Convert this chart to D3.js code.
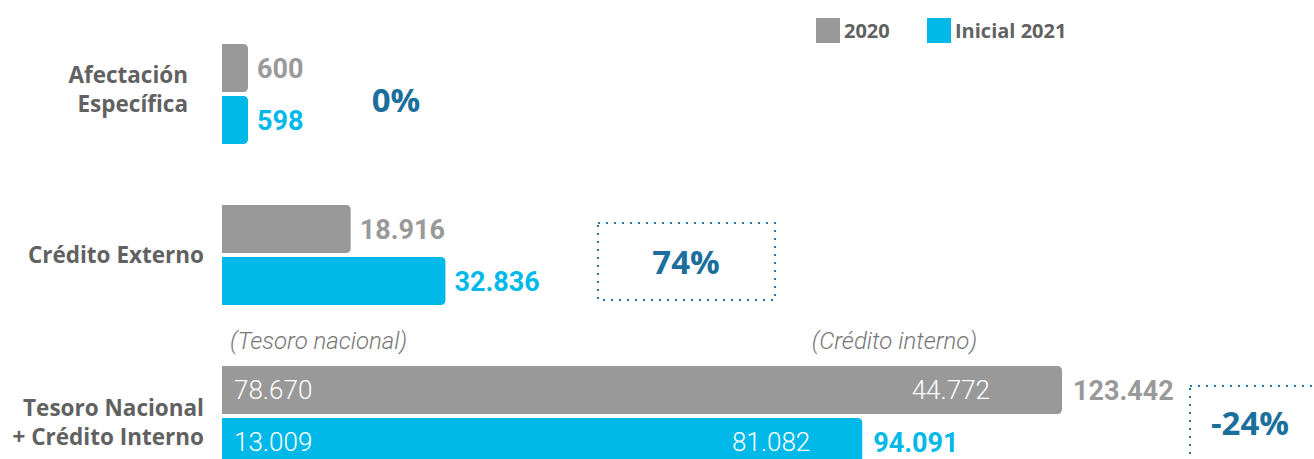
<!DOCTYPE html>
<html>
<head>
<meta charset="utf-8">
<script src="https://cdn.jsdelivr.net/npm/d3@7"></script>
<style>
  html, body { margin: 0; padding: 0; background: #fff; }
  svg { display: block; }
</style>
</head>
<body>
<svg id="chart" width="1314" height="459"></svg>
<script>
// ---- data ----
const categories = ["Afectación Específica", "Crédito Externo", "Tesoro Nacional + Crédito Interno"];
const categoryLines = [["Afectación", "Específica"], ["Crédito Externo"], ["Tesoro Nacional", "+ Crédito Interno"]];
const seriesNames = ["2020", "Inicial 2021"];
const values2020 = [600, 18916, 123442];
const values2021 = [598, 32836, 94091];
// composition of the last category
const tesoroNacional = [78670, 13009];   // 2020, 2021
const creditoInterno = [44772, 81082];   // 2020, 2021
const componentLabels = ["(Tesoro nacional)", "(Crédito interno)"];
const changes = ["0%", "74%", "-24%"];

// ---- styles / layout ----
const colors = ["#999999", "#00b9e9"];
const pctColor = "#1b6f9c";
const catColor = "#616161";
const x0 = 222;
const minBar = 26;
const labelOffsetY = [-5, 0, 6];
const labelRightX = [188, 204, 204];

const svg = d3.select("#chart");
const fmt = d3.formatLocale({decimal: ",", thousands: ".", grouping: [3], currency: ["$", ""]}).format(",d");

const x = d3.scaleLinear().domain([0, 123442]).range([0, 840]);
const y = d3.scaleBand().domain(categories).range([13.5, 496.5]);
const barH = 48, gap = 4;

function barW(v) { return Math.max(x(v), minBar); }
function roundedRight(xs, ys, w, h, r) {
  return `M${xs},${ys}H${xs + w - r}Q${xs + w},${ys} ${xs + w},${ys + r}V${ys + h - r}Q${xs + w},${ys + h} ${xs + w - r},${ys + h}H${xs}Z`;
}

const series = [values2020, values2021];

categories.forEach((cat, i) => {
  const cy = y(cat) + y.bandwidth() / 2;
  const tops = [cy - gap / 2 - barH, cy + gap / 2];
  series.forEach((vals, s) => {
    const w = barW(vals[i]);
    svg.append("path")
      .attr("d", roundedRight(x0, tops[s], w, barH, 5))
      .attr("fill", colors[s]);
    const isLast = i === categories.length - 1;
    svg.append("text")
      .attr("x", x0 + w + (isLast ? 11 : 9))
      .attr("y", tops[s] + barH / 2)
      .attr("dy", "0.36em")
      .attr("fill", colors[s])
      .attr("font-family", "Roboto, sans-serif")
      .attr("font-weight", 700)
      .attr("font-size", 27)
      .text(fmt(vals[i]));
  });

  // category label
  const lines = categoryLines[i];
  const t = svg.append("text")
    .attr("text-anchor", "end")
    .attr("fill", catColor)
    .attr("font-family", "'Open Sans', sans-serif")
    .attr("font-weight", 700)
    .attr("font-size", 22.5);
  lines.forEach((ln, k) => {
    t.append("tspan")
      .attr("x", labelRightX[i])
      .attr("y", cy + labelOffsetY[i] + (k - (lines.length - 1) / 2) * 29)
      .attr("dy", "0.36em")
      .text(ln);
  });
});

// composition labels for last category
const lastCat = categories[2];
const lcy = y(lastCat) + y.bandwidth() / 2;
const lTops = [lcy - gap / 2 - barH, lcy + gap / 2];
[0, 1].forEach(s => {
  const total = series[s][2];
  svg.append("text")
    .attr("x", x0 + 12)
    .attr("y", lTops[s] + barH / 2)
    .attr("dy", "0.36em")
    .attr("fill", "#fff")
    .attr("font-family", "Roboto, sans-serif")
    .attr("font-weight", 300)
    .attr("font-size", 26)
    .text(fmt(tesoroNacional[s]));
  svg.append("text")
    .attr("x", x0 + x(total) - (s === 0 ? 72 : 52))
    .attr("y", lTops[s] + barH / 2)
    .attr("dy", "0.36em")
    .attr("text-anchor", "end")
    .attr("fill", "#fff")
    .attr("font-family", "Roboto, sans-serif")
    .attr("font-weight", 300)
    .attr("font-size", 26)
    .text(fmt(creditoInterno[s]));
});
svg.append("text")
  .attr("x", 230).attr("y", 340).attr("dy", "0.36em")
  .attr("fill", "#777").attr("font-family", "Roboto, sans-serif")
  .attr("font-weight", 300).attr("font-style", "italic").attr("font-size", 24)
  .text(componentLabels[0]);
svg.append("text")
  .attr("x", 977).attr("y", 340).attr("dy", "0.36em").attr("text-anchor", "end")
  .attr("fill", "#777").attr("font-family", "Roboto, sans-serif")
  .attr("font-weight", 300).attr("font-style", "italic").attr("font-size", 24)
  .text(componentLabels[1]);

// percentage changes
const boxes = [null, {x: 598, y: 223, w: 177, h: 77}, {x: 1190, y: 386, w: 140, h: 90}];
const pctPos = [{x: 396, y: 100}, {x: 686, y: 262}, {x: 1250, y: 423}];
changes.forEach((c, i) => {
  const b = boxes[i];
  if (b) {
    svg.append("rect")
      .attr("x", b.x).attr("y", b.y).attr("width", b.w).attr("height", b.h)
      .attr("fill", "none").attr("stroke", "#2a78a8").attr("stroke-width", 2)
      .attr("stroke-dasharray", "2,6");
  }
  svg.append("text")
    .attr("x", pctPos[i].x).attr("y", pctPos[i].y).attr("dy", "0.36em")
    .attr("text-anchor", "middle")
    .attr("fill", pctColor)
    .attr("font-family", "'Open Sans', sans-serif")
    .attr("font-weight", 700)
    .attr("font-size", 33)
    .text(c);
});

// legend
const legX = [816, 927];
seriesNames.forEach((n, s) => {
  svg.append("rect").attr("x", legX[s]).attr("y", 18).attr("width", 24).attr("height", 25).attr("fill", colors[s]);
  svg.append("text").attr("x", legX[s] + 28).attr("y", 30.5).attr("dy", "0.36em")
    .attr("fill", catColor).attr("font-family", "'Open Sans', sans-serif")
    .attr("font-weight", 700).attr("font-size", 20).text(n);
});
</script>
</body>
</html>
